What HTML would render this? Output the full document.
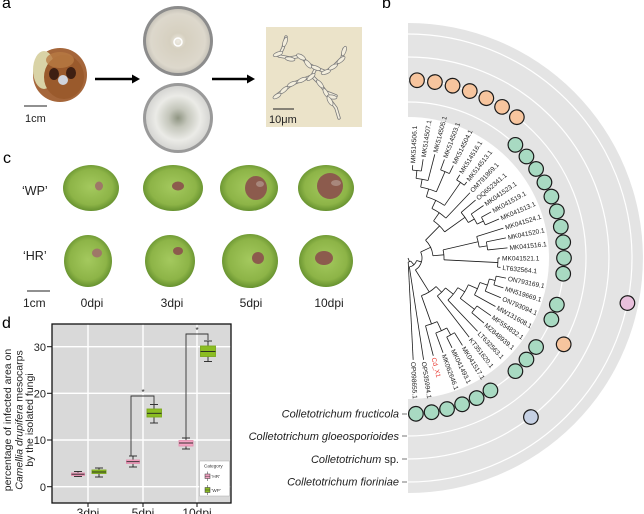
<!DOCTYPE html>
<html><head><meta charset="utf-8"><style>
html,body{margin:0;padding:0;background:#fff;}
svg{display:block;}
text{font-family:"Liberation Sans",Arial,sans-serif;}
</style></head><body>
<svg width="644" height="514" viewBox="0 0 644 514" xmlns="http://www.w3.org/2000/svg">
<defs>
<radialGradient id="fr" cx="50%" cy="48%" r="55%">
<stop offset="0" stop-color="#a4c95e"/><stop offset="0.7" stop-color="#8db447"/><stop offset="1" stop-color="#5e8a2a"/>
</radialGradient>
<radialGradient id="d1" cx="50%" cy="50%" r="50%">
<stop offset="0" stop-color="#efece4"/><stop offset="0.25" stop-color="#d6d0c0"/><stop offset="0.85" stop-color="#ddd8cc"/><stop offset="1" stop-color="#c9c5bb"/>
</radialGradient>
<radialGradient id="d2" cx="50%" cy="50%" r="50%">
<stop offset="0" stop-color="#8f9582"/><stop offset="0.3" stop-color="#c4c6bb"/><stop offset="0.7" stop-color="#ebebe7"/><stop offset="1" stop-color="#d5d5d2"/>
</radialGradient>
</defs>

<!-- ============ Panel a ============ -->
<text x="2" y="8" font-size="16">a</text>
<circle cx="60" cy="75" r="27" fill="#a5663a"/>
<ellipse cx="44" cy="70" rx="11" ry="19" fill="#d9d3a6"/>
<ellipse cx="64" cy="77" rx="20" ry="22" fill="#9a5a2c"/>
<ellipse cx="60" cy="60" rx="14" ry="8" fill="#b87a44" opacity="0.8"/>
<ellipse cx="54" cy="74" rx="5" ry="6" fill="#3e1f12"/>
<ellipse cx="71" cy="73" rx="5" ry="6" fill="#3e1f12"/>
<circle cx="63" cy="80" r="5" fill="#cfd3dc"/>
<line x1="24" y1="106" x2="47" y2="106" stroke="#222" stroke-width="1"/>
<text x="25" y="122" font-size="11" fill="#222">1cm</text>
<line x1="95" y1="79" x2="133" y2="79" stroke="#000" stroke-width="2.5"/>
<polygon points="132,74.5 140,79 132,83.5" fill="#000"/>
<circle cx="178" cy="41" r="35" fill="#8c8c8c"/>
<circle cx="178" cy="41" r="32" fill="url(#d1)"/>
<circle cx="178" cy="42" r="4" fill="none" stroke="#fff" stroke-width="1.5"/>
<circle cx="178" cy="118" r="35" fill="#9a9a9a"/>
<circle cx="178" cy="118" r="32" fill="url(#d2)"/>
<line x1="212" y1="79" x2="248" y2="79" stroke="#000" stroke-width="2.5"/>
<polygon points="247,74.5 255,79 247,83.5" fill="#000"/>
<!-- microscope -->
<rect x="266" y="27" width="96" height="100" fill="#ebe3c9"/>
<g fill="none" stroke-linecap="round" stroke-linejoin="round">
<g stroke="#7b7b7b" stroke-width="3.4">
<polyline points="286,37 283,48 279,56 290,58 301,56 308,64 316,68 326,72 334,66 342,58 344,49"/>
<polyline points="316,68 312,76 302,80 292,84 284,90 276,96"/>
<polyline points="312,76 320,84 326,92 330,100 336,108 339,118"/>
<polyline points="326,92 336,96"/>
</g>
<g stroke="#f3eedd" stroke-width="1.8">
<polyline points="286,37 283,48 279,56 290,58 301,56 308,64 316,68 326,72 334,66 342,58 344,49"/>
<polyline points="316,68 312,76 302,80 292,84 284,90 276,96"/>
<polyline points="312,76 320,84 326,92 330,100 336,108 339,118"/>
<polyline points="326,92 336,96"/>
</g>
</g>
<g fill="#f3eedd" stroke="#7b7b7b" stroke-width="0.7">
<ellipse cx="285" cy="42" rx="5" ry="2" transform="rotate(-70 285 42)"/>
<ellipse cx="278" cy="54" rx="5" ry="2" transform="rotate(-20 278 54)"/>
<ellipse cx="290" cy="59" rx="5" ry="2" transform="rotate(10 290 59)"/>
<ellipse cx="301" cy="57" rx="5" ry="2.2" transform="rotate(30 301 57)"/>
<ellipse cx="308" cy="64" rx="5" ry="2.2" transform="rotate(50 308 64)"/>
<ellipse cx="316" cy="68" rx="5" ry="2" transform="rotate(20 316 68)"/>
<ellipse cx="326" cy="72" rx="5" ry="2" transform="rotate(-20 326 72)"/>
<ellipse cx="344" cy="51" rx="5" ry="2" transform="rotate(-70 344 51)"/>
<ellipse cx="341" cy="60" rx="5" ry="2" transform="rotate(-40 341 60)"/>
<ellipse cx="333" cy="67" rx="5" ry="2" transform="rotate(-30 333 67)"/>
<ellipse cx="311" cy="77" rx="5" ry="2" transform="rotate(-40 311 77)"/>
<ellipse cx="320" cy="84" rx="5" ry="2" transform="rotate(50 320 84)"/>
<ellipse cx="302" cy="80" rx="5" ry="2" transform="rotate(-25 302 80)"/>
<ellipse cx="292" cy="84" rx="5" ry="2" transform="rotate(-25 292 84)"/>
<ellipse cx="284" cy="90" rx="5" ry="2" transform="rotate(-40 284 90)"/>
<ellipse cx="277" cy="96" rx="4.5" ry="2" transform="rotate(-30 277 96)"/>
<ellipse cx="326" cy="93" rx="5" ry="2" transform="rotate(60 326 93)"/>
<ellipse cx="332" cy="97" rx="5" ry="2" transform="rotate(10 332 97)"/>
<ellipse cx="330" cy="101" rx="5" ry="2" transform="rotate(60 330 101)"/>
</g>
<line x1="273" y1="109" x2="294" y2="109" stroke="#222" stroke-width="1"/>
<text x="269" y="123" font-size="11" fill="#222">10μm</text>

<!-- ============ Panel c ============ -->
<text x="3" y="163" font-size="16">c</text>
<text x="22" y="195" font-size="12.5" fill="#222">‘WP’</text>
<text x="23" y="260" font-size="12.5" fill="#222">‘HR’</text>
<g fill="url(#fr)">
<ellipse cx="91" cy="188" rx="28" ry="23"/>
<ellipse cx="173" cy="188" rx="30" ry="23"/>
<ellipse cx="249" cy="188" rx="29" ry="23"/>
<ellipse cx="326" cy="188" rx="28" ry="23"/>
<ellipse cx="88" cy="261" rx="24" ry="26"/>
<ellipse cx="170" cy="261" rx="25" ry="26"/>
<ellipse cx="250" cy="261" rx="28" ry="27"/>
<ellipse cx="326" cy="261" rx="27" ry="26"/>
</g>
<g fill="#8c5b4d">
<ellipse cx="99" cy="186" rx="4" ry="4.5" fill="#9e7868"/>
<ellipse cx="178" cy="186" rx="6" ry="4.5"/>
<ellipse cx="256" cy="188" rx="11" ry="12"/>
<ellipse cx="330" cy="186" rx="13" ry="13"/>
<ellipse cx="97" cy="253" rx="5" ry="4.5" fill="#9e7868"/>
<ellipse cx="178" cy="251" rx="5" ry="4"/>
<ellipse cx="258" cy="258" rx="6" ry="6"/>
<ellipse cx="324" cy="258" rx="9" ry="7"/>
</g>
<ellipse cx="260" cy="184" rx="4" ry="3" fill="#b49a90" opacity="0.7"/>
<ellipse cx="336" cy="183" rx="5" ry="3" fill="#b49a90" opacity="0.7"/>
<line x1="27" y1="291" x2="50" y2="291" stroke="#222" stroke-width="1"/>
<text x="23" y="307" font-size="12" fill="#222">1cm</text>
<g font-size="12" fill="#222" text-anchor="middle">
<text x="92" y="307">0dpi</text>
<text x="172" y="307">3dpi</text>
<text x="251" y="307">5dpi</text>
<text x="329" y="307">10dpi</text>
</g>

<!-- ============ Panel d ============ -->
<text x="2" y="328" font-size="16">d</text>
<rect x="52" y="324" width="179" height="179" fill="#d9d9d9"/>
<g stroke="#fff" stroke-width="1.4">
<line x1="52" y1="346.7" x2="231" y2="346.7"/>
<line x1="52" y1="393.3" x2="231" y2="393.3"/>
<line x1="52" y1="440" x2="231" y2="440"/>
<line x1="52" y1="486.7" x2="231" y2="486.7"/>
<line x1="88" y1="324" x2="88" y2="503"/>
<line x1="143" y1="324" x2="143" y2="503"/>
<line x1="197" y1="324" x2="197" y2="503"/>
</g>
<rect x="52" y="324" width="179" height="179" fill="none" stroke="#111" stroke-width="1.3"/>
<g stroke="#111" stroke-width="1">
<line x1="47" y1="346.7" x2="52" y2="346.7"/>
<line x1="47" y1="393.3" x2="52" y2="393.3"/>
<line x1="47" y1="440" x2="52" y2="440"/>
<line x1="47" y1="486.7" x2="52" y2="486.7"/>
<line x1="88" y1="503" x2="88" y2="507"/>
<line x1="143" y1="503" x2="143" y2="507"/>
<line x1="197" y1="503" x2="197" y2="507"/>
</g>
<g font-size="11" fill="#222" text-anchor="end">
<text x="46" y="351">30</text>
<text x="46" y="397.5">20</text>
<text x="46" y="444">10</text>
<text x="46" y="491">0</text>
</g>
<g font-size="12" fill="#222" text-anchor="middle">
<text x="88" y="517">3dpi</text>
<text x="143" y="517">5dpi</text>
<text x="197" y="517">10dpi</text>
</g>
<g font-size="10.5" fill="#222" text-anchor="middle">
<text transform="translate(11,420) rotate(-90)">percentage of infected area on</text>
<text transform="translate(22.5,420) rotate(-90)"><tspan font-style="italic">Camellia drupifera</tspan> mesocarps</text>
<text transform="translate(33,420) rotate(-90)">by the isolated fungi</text>
</g>
<g stroke="#222" stroke-width="0.9">
<line x1="78" y1="471.5" x2="78" y2="476.5"/><line x1="74" y1="471.5" x2="82" y2="471.5"/><line x1="74" y1="476.5" x2="82" y2="476.5"/>
<rect x="71.5" y="473" width="13" height="2.6" fill="#f5a3c3" stroke="#e58fb0"/>
<line x1="71.5" y1="474.2" x2="84.5" y2="474.2"/>
<line x1="99" y1="468" x2="99" y2="477"/><line x1="95" y1="468" x2="103" y2="468"/><line x1="95" y1="477" x2="103" y2="477"/>
<rect x="92" y="470" width="14" height="3.5" fill="#8bbd22" stroke="#7aa81c"/>
<line x1="92" y1="472" x2="106" y2="472"/>
<line x1="133" y1="456" x2="133" y2="467"/><line x1="129" y1="456" x2="137" y2="456"/><line x1="129" y1="467" x2="137" y2="467"/>
<rect x="126.5" y="460" width="13" height="3.5" fill="#f5a3c3" stroke="#e58fb0"/>
<line x1="126.5" y1="461.7" x2="139.5" y2="461.7"/>
<line x1="154" y1="404.5" x2="154" y2="423"/><line x1="150" y1="404.5" x2="158" y2="404.5"/><line x1="150" y1="423" x2="158" y2="423"/>
<rect x="147" y="409" width="14.5" height="8" fill="#8bbd22" stroke="#7aa81c"/>
<line x1="147" y1="413.3" x2="161.5" y2="413.3"/>
<line x1="186" y1="438" x2="186" y2="449"/><line x1="182" y1="438" x2="190" y2="438"/><line x1="182" y1="449" x2="190" y2="449"/>
<rect x="179" y="440.5" width="14" height="5.5" fill="#f5a3c3" stroke="#e58fb0"/>
<line x1="179" y1="443" x2="193" y2="443"/>
<line x1="208" y1="341" x2="208" y2="361.5"/><line x1="204" y1="341" x2="212" y2="341"/><line x1="204" y1="361.5" x2="212" y2="361.5"/>
<rect x="200.5" y="346" width="15" height="10.5" fill="#8bbd22" stroke="#7aa81c"/>
<line x1="200.5" y1="351.5" x2="215.5" y2="351.5"/>
</g>
<g fill="none" stroke="#333" stroke-width="0.9">
<path d="M131,456 V396 H154 V405"/>
<path d="M186,438 V334 H208 V340"/>
</g>
<text x="143" y="395" font-size="8" text-anchor="middle" fill="#222">*</text>
<text x="197" y="333" font-size="8" text-anchor="middle" fill="#222">*</text>
<rect x="199.5" y="461" width="30" height="35" fill="#fff" stroke="#aaa" stroke-width="0.5"/>
<text x="204" y="467.5" font-size="4.6" fill="#333">Category</text>
<g stroke="#333" stroke-width="0.5">
<line x1="207.5" y1="471.5" x2="207.5" y2="481"/>
<rect x="205" y="474" width="5" height="4.5" fill="#f5a3c3"/>
<line x1="205" y1="476.2" x2="210" y2="476.2"/>
<line x1="207.5" y1="485" x2="207.5" y2="495"/>
<rect x="205" y="487.5" width="5" height="5" fill="#8bbd22"/>
<line x1="205" y1="490" x2="210" y2="490"/>
</g>
<text x="211.5" y="478" font-size="4.6" fill="#333">'HR'</text>
<text x="211.5" y="492" font-size="4.6" fill="#333">'WP'</text>

<!-- ============ Panel b ============ -->
<text x="382" y="8" font-size="16">b</text>
<path d="M408,23 A235,235 0 0 1 408,493 L408,399 A141,141 0 0 0 408,117 Z" fill="#e4e4e4"/>
<g fill="none" stroke="#fff" stroke-width="1.2">
<path d="M408,102 A156,156 0 0 1 408,414"/>
<path d="M408,80 A178,178 0 0 1 408,436"/>
<path d="M408,57 A201,201 0 0 1 408,459"/>
<path d="M408,34 A224,224 0 0 1 408,482"/>
</g>
<g stroke="#555" stroke-width="0.8">
<line x1="402" y1="414" x2="407" y2="414"/>
<line x1="402" y1="436" x2="407" y2="436"/>
<line x1="402" y1="459" x2="407" y2="459"/>
<line x1="402" y1="482" x2="407" y2="482"/>
</g>
<g font-size="11" fill="#222" text-anchor="end" font-style="italic">
<text x="399" y="417.5">Colletotrichum fructicola</text>
<text x="399" y="440">Colletotrichum gloeosporioides</text>
<text x="399" y="463">Colletotrichum <tspan font-style="normal">sp.</tspan></text>
<text x="399" y="485.5">Colletotrichum fioriniae</text>
</g>

<g transform="translate(408,258)">
<g stroke="#1a1a1a" stroke-width="0.8" fill="none">
<line x1="88" x2="93" transform="rotate(-87.1)"/>
<line x1="88" x2="100" transform="rotate(-81.3)"/>
<line x1="80" x2="88" transform="rotate(-84.2)"/>
<line x1="80" x2="107" transform="rotate(-75.5)"/>
<line x1="94" x2="105" transform="rotate(-69.7)"/>
<line x1="94" x2="103" transform="rotate(-63.9)"/>
<line x1="72" x2="80" transform="rotate(-79.85)"/>
<line x1="72" x2="94" transform="rotate(-66.8)"/>
<line x1="92" x2="98" transform="rotate(-58.1)"/>
<line x1="92" x2="96" transform="rotate(-52.3)"/>
<line x1="64" x2="72" transform="rotate(-73.3)"/>
<line x1="64" x2="92" transform="rotate(-55.2)"/>
<line x1="55" x2="64" transform="rotate(-64.25)"/>
<line x1="55" x2="90" transform="rotate(-46.5)"/>
<line x1="84" x2="95" transform="rotate(-29)"/>
<line x1="84" x2="99" transform="rotate(-23.2)"/>
<line x1="77" x2="92" transform="rotate(-34.8)"/>
<line x1="77" x2="84" transform="rotate(-26.1)"/>
<line x1="70" x2="89" transform="rotate(-40.6)"/>
<line x1="70" x2="77" transform="rotate(-30.45)"/>
<line x1="45" x2="55" transform="rotate(-55.4)"/>
<line x1="45" x2="70" transform="rotate(-35.5)"/>
<line x1="80" x2="100" transform="rotate(-11.6)"/>
<line x1="80" x2="100" transform="rotate(-5.8)"/>
<line x1="72" x2="100" transform="rotate(-17.4)"/>
<line x1="72" x2="80" transform="rotate(-8.7)"/>
<line x1="90" x2="92" transform="rotate(0)"/>
<line x1="90" x2="93" transform="rotate(5.8)"/>
<line x1="36" x2="72" transform="rotate(-13.05)"/>
<line x1="36" x2="90" transform="rotate(2.9)"/>
<line x1="25" x2="45" transform="rotate(-45.45)"/>
<line x1="25" x2="36" transform="rotate(-5.1)"/>
<line x1="90" x2="100" transform="rotate(11.6)"/>
<line x1="90" x2="100" transform="rotate(17.4)"/>
<line x1="84" x2="90" transform="rotate(14.5)"/>
<line x1="84" x2="101" transform="rotate(23.2)"/>
<line x1="76" x2="84" transform="rotate(18.85)"/>
<line x1="76" x2="100" transform="rotate(29)"/>
<line x1="84" x2="101" transform="rotate(34.8)"/>
<line x1="84" x2="100" transform="rotate(40.6)"/>
<line x1="66" x2="76" transform="rotate(23.9)"/>
<line x1="66" x2="84" transform="rotate(37.7)"/>
<line x1="58" x2="66" transform="rotate(30.8)"/>
<line x1="58" x2="101" transform="rotate(46.5)"/>
<line x1="48" x2="58" transform="rotate(38.65)"/>
<line x1="48" x2="100" transform="rotate(52.3)"/>
<line x1="88" x2="103" transform="rotate(58.1)"/>
<line x1="88" x2="100" transform="rotate(63.9)"/>
<line x1="80" x2="88" transform="rotate(61)"/>
<line x1="80" x2="101" transform="rotate(69.7)"/>
<line x1="70" x2="80" transform="rotate(65.35)"/>
<line x1="70" x2="101" transform="rotate(75.5)"/>
<line x1="40" x2="48" transform="rotate(45.5)"/>
<line x1="40" x2="70" transform="rotate(70.4)"/>
<line x1="14" x2="25" transform="rotate(-25.3)"/>
<line x1="14" x2="40" transform="rotate(57.95)"/>
<line x1="9" x2="14" transform="rotate(16.3)"/>
<line x1="9" x2="103" transform="rotate(81.3)"/>
<line x1="4" x2="9" transform="rotate(48.8)"/>
<line x1="4" x2="102" transform="rotate(87.1)"/>
<line x1="0" x2="4" transform="rotate(67.95)"/>
</g>
<g stroke="#1a1a1a" stroke-width="0.8" fill="none">
<circle r="88" stroke-dasharray="8.91 1000" transform="rotate(-87.1)"/>
<circle r="80" stroke-dasharray="12.15 1000" transform="rotate(-84.2)"/>
<circle r="94" stroke-dasharray="9.51 1000" transform="rotate(-69.7)"/>
<circle r="72" stroke-dasharray="16.40 1000" transform="rotate(-79.85)"/>
<circle r="92" stroke-dasharray="9.31 1000" transform="rotate(-58.1)"/>
<circle r="64" stroke-dasharray="20.22 1000" transform="rotate(-73.3)"/>
<circle r="55" stroke-dasharray="17.04 1000" transform="rotate(-64.25)"/>
<circle r="84" stroke-dasharray="8.50 1000" transform="rotate(-29)"/>
<circle r="77" stroke-dasharray="11.69 1000" transform="rotate(-34.8)"/>
<circle r="70" stroke-dasharray="12.40 1000" transform="rotate(-40.6)"/>
<circle r="45" stroke-dasharray="15.63 1000" transform="rotate(-55.4)"/>
<circle r="80" stroke-dasharray="8.10 1000" transform="rotate(-11.6)"/>
<circle r="72" stroke-dasharray="10.93 1000" transform="rotate(-17.4)"/>
<circle r="90" stroke-dasharray="9.11 1000" transform="rotate(0)"/>
<circle r="36" stroke-dasharray="10.02 1000" transform="rotate(-13.05)"/>
<circle r="25" stroke-dasharray="17.61 1000" transform="rotate(-45.45)"/>
<circle r="90" stroke-dasharray="9.11 1000" transform="rotate(11.6)"/>
<circle r="84" stroke-dasharray="12.75 1000" transform="rotate(14.5)"/>
<circle r="76" stroke-dasharray="13.46 1000" transform="rotate(18.85)"/>
<circle r="84" stroke-dasharray="8.50 1000" transform="rotate(34.8)"/>
<circle r="66" stroke-dasharray="15.90 1000" transform="rotate(23.9)"/>
<circle r="58" stroke-dasharray="15.89 1000" transform="rotate(30.8)"/>
<circle r="48" stroke-dasharray="11.44 1000" transform="rotate(38.65)"/>
<circle r="88" stroke-dasharray="8.91 1000" transform="rotate(58.1)"/>
<circle r="80" stroke-dasharray="12.15 1000" transform="rotate(61)"/>
<circle r="70" stroke-dasharray="12.40 1000" transform="rotate(65.35)"/>
<circle r="40" stroke-dasharray="17.38 1000" transform="rotate(45.5)"/>
<circle r="14" stroke-dasharray="20.34 1000" transform="rotate(-25.3)"/>
<circle r="9" stroke-dasharray="10.21 1000" transform="rotate(16.3)"/>
<circle r="4" stroke-dasharray="2.67 1000" transform="rotate(48.8)"/>
</g>
<g font-size="6.6" fill="#222">
<text transform="rotate(-87.1) translate(95,0)" dy="2.3">MK514506.1</text>
<text transform="rotate(-81.3) translate(102,0)" dy="2.3">MK514507.1</text>
<text transform="rotate(-75.5) translate(109,0)" dy="2.3">MK514505.1</text>
<text transform="rotate(-69.7) translate(107,0)" dy="2.3">MK514503.1</text>
<text transform="rotate(-63.9) translate(105,0)" dy="2.3">MK514504.1</text>
<text transform="rotate(-58.1) translate(100,0)" dy="2.3">MK514516.1</text>
<text transform="rotate(-52.3) translate(98,0)" dy="2.3">MK514513.1</text>
<text transform="rotate(-46.5) translate(92,0)" dy="2.3">OM791869.1</text>
<text transform="rotate(-40.6) translate(91,0)" dy="2.3">OQ652341.1</text>
<text transform="rotate(-34.8) translate(94,0)" dy="2.3">MK041523.1</text>
<text transform="rotate(-29) translate(97,0)" dy="2.3">MK041519.1</text>
<text transform="rotate(-23.2) translate(101,0)" dy="2.3">MK041513.1</text>
<text transform="rotate(-17.4) translate(102,0)" dy="2.3">MK041524.1</text>
<text transform="rotate(-11.6) translate(102,0)" dy="2.3">MK041520.1</text>
<text transform="rotate(-5.8) translate(102,0)" dy="2.3">MK041516.1</text>
<text transform="rotate(0) translate(94,0)" dy="2.3">MK041521.1</text>
<text transform="rotate(5.8) translate(95,0)" dy="2.3">LT632564.1</text>
<text transform="rotate(11.6) translate(102,0)" dy="2.3">ON793169.1</text>
<text transform="rotate(17.4) translate(102,0)" dy="2.3">MN519669.1</text>
<text transform="rotate(23.2) translate(103,0)" dy="2.3">ON793094.1</text>
<text transform="rotate(29) translate(102,0)" dy="2.3">MW131608.1</text>
<text transform="rotate(34.8) translate(103,0)" dy="2.3">MF554832.1</text>
<text transform="rotate(40.6) translate(102,0)" dy="2.3">MZ848939.1</text>
<text transform="rotate(46.5) translate(103,0)" dy="2.3">LT632563.1</text>
<text transform="rotate(52.3) translate(102,0)" dy="2.3">KT351620.1</text>
<text transform="rotate(58.1) translate(105,0)" dy="2.3">MK041517.1</text>
<text transform="rotate(63.9) translate(102,0)" dy="2.3">MK041493.1</text>
<text transform="rotate(69.7) translate(103,0)" dy="2.3">MK062646.1</text>
<text transform="rotate(75.5) translate(103,0)" dy="2.3" fill="#e8342b">Cd_X1</text>
<text transform="rotate(81.3) translate(105,0)" dy="2.3">OP535994.1</text>
<text transform="rotate(87.1) translate(104,0)" dy="2.3">OP098655.1</text>
</g>
<g stroke="#1a1a1a" stroke-width="1.2">
<g fill="#f7c59e">
<circle cx="178" r="7.3" transform="rotate(-87.1)"/>
<circle cx="178" r="7.3" transform="rotate(-81.3)"/>
<circle cx="178" r="7.3" transform="rotate(-75.5)"/>
<circle cx="178" r="7.3" transform="rotate(-69.7)"/>
<circle cx="178" r="7.3" transform="rotate(-63.9)"/>
<circle cx="178" r="7.3" transform="rotate(-58.1)"/>
<circle cx="178" r="7.3" transform="rotate(-52.3)"/>
<circle cx="178" r="7.3" transform="rotate(29)"/>
</g>
<g fill="#a8dac2">
<circle cx="156" r="7.3" transform="rotate(-46.5)"/>
<circle cx="156" r="7.3" transform="rotate(-40.6)"/>
<circle cx="156" r="7.3" transform="rotate(-34.8)"/>
<circle cx="156" r="7.3" transform="rotate(-29)"/>
<circle cx="156" r="7.3" transform="rotate(-23.2)"/>
<circle cx="156" r="7.3" transform="rotate(-17.4)"/>
<circle cx="156" r="7.3" transform="rotate(-11.6)"/>
<circle cx="156" r="7.3" transform="rotate(-5.8)"/>
<circle cx="156" r="7.3" transform="rotate(0)"/>
<circle cx="156" r="7.3" transform="rotate(5.8)"/>
<circle cx="156" r="7.3" transform="rotate(17.4)"/>
<circle cx="156" r="7.3" transform="rotate(23.2)"/>
<circle cx="156" r="7.3" transform="rotate(34.8)"/>
<circle cx="156" r="7.3" transform="rotate(40.6)"/>
<circle cx="156" r="7.3" transform="rotate(46.5)"/>
<circle cx="156" r="7.3" transform="rotate(58.1)"/>
<circle cx="156" r="7.3" transform="rotate(63.9)"/>
<circle cx="156" r="7.3" transform="rotate(69.7)"/>
<circle cx="156" r="7.3" transform="rotate(75.5)"/>
<circle cx="156" r="7.3" transform="rotate(81.3)"/>
<circle cx="156" r="7.3" transform="rotate(87.1)"/>
</g>
<circle cx="224" r="7.3" transform="rotate(11.6)" fill="#e8c0dc"/>
<circle cx="201" r="7.3" transform="rotate(52.3)" fill="#c6d1e4"/>
</g>
</g>
</svg>
</body></html>
